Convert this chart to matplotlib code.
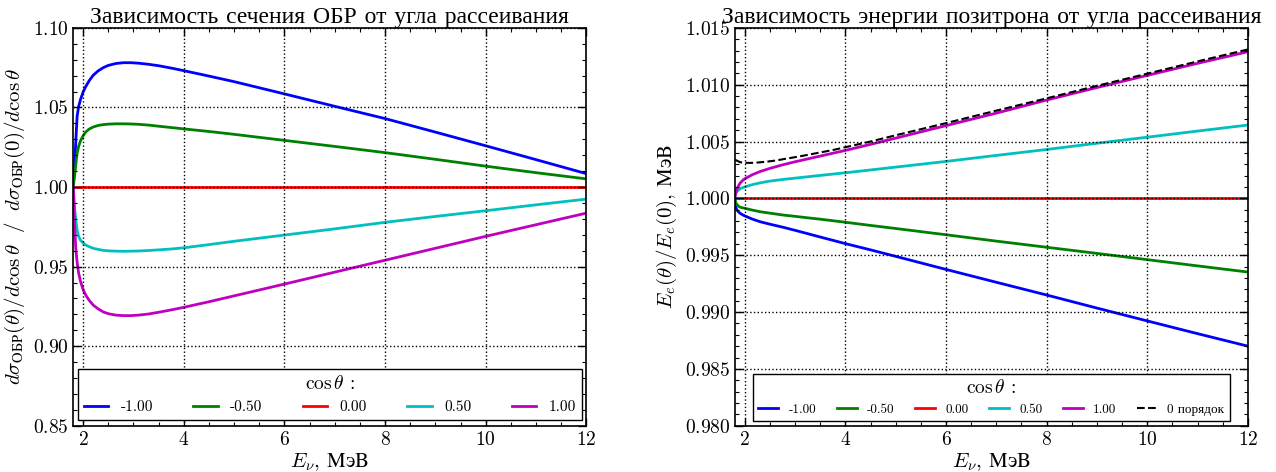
import matplotlib
matplotlib.use("Agg")
import matplotlib.pyplot as plt
from matplotlib.ticker import MultipleLocator

plt.rcParams['font.family'] = ['cmr10', 'Liberation Serif']
plt.rcParams['mathtext.fontset'] = 'cm'
plt.rcParams['axes.formatter.use_mathtext'] = True
plt.rcParams['axes.unicode_minus'] = False

cos_labels = ['-1.00', '-0.50', '0.00', '0.50', '1.00']
colors = ['b', 'g', 'r', 'c', 'm']

# --- left panel: d sigma(theta) / d sigma(0) ---
E_left = [1.806, 1.82, 1.835, 1.855, 1.88, 1.91, 1.95, 2.0, 2.05, 2.12, 2.2, 2.3, 2.4, 2.5,
          2.65, 2.8, 2.95, 3.1, 3.3, 3.5, 3.77, 4, 4.5, 5, 6, 7, 8, 9, 10, 11, 12]
sig_m100 = [1.000, 1.009, 1.0169, 1.029, 1.0443, 1.0505, 1.0552, 1.0597, 1.0630, 1.0668, 1.0702,
            1.0730, 1.0750, 1.0764, 1.0776, 1.0781, 1.0781, 1.0778, 1.0771, 1.0762, 1.0746,
            1.0731, 1.0697, 1.0662, 1.0585, 1.0507, 1.0430, 1.0345, 1.0259, 1.0172, 1.0084]
sig_m050 = [1.000, 1.0045, 1.0085, 1.0145, 1.0211, 1.0255, 1.0292, 1.0322, 1.0345, 1.0364, 1.0377,
            1.0387, 1.0392, 1.0395, 1.0397, 1.0397, 1.0396, 1.0394, 1.0389, 1.0382, 1.0373,
            1.0365, 1.0349, 1.0331, 1.0293, 1.0255, 1.0216, 1.0174, 1.0131, 1.0090, 1.0051]
sig_000 = [1.0] * len(E_left)
sig_p050 = [1.000, 0.992, 0.9853, 0.979, 0.9727, 0.969, 0.9665, 0.9648, 0.9636, 0.9625, 0.9615,
            0.9608, 0.9602, 0.9599, 0.9597, 0.9596, 0.9597, 0.9598, 0.9601, 0.9605, 0.9611,
            0.9618, 0.9638, 0.9659, 0.9698, 0.9737, 0.9778, 0.9815, 0.9851, 0.9888, 0.9924]
sig_p100 = [1.000, 0.985, 0.9726, 0.961, 0.953, 0.9460, 0.9405, 0.9355, 0.9322, 0.9288, 0.9258,
            0.9234, 0.9215, 0.9204, 0.9195, 0.9192, 0.9192, 0.9195, 0.9202, 0.9213, 0.9229,
            0.9244, 0.9279, 0.9316, 0.9390, 0.9465, 0.9540, 0.9615, 0.9690, 0.9763, 0.9836]

# --- right panel: E_e(theta) / E_e(0) ---
E_right = [1.806, 1.81, 1.82, 1.84, 1.875, 1.91, 1.96, 2.01, 2.15, 2.31, 2.5, 2.77, 3.0,
           3.23, 3.5, 3.76, 4, 4.5, 5, 6, 7, 8, 9, 10, 11, 12]
en_m100 = [1.0, 0.9995, 0.99925, 0.99902, 0.99882, 0.99868, 0.99855, 0.99844, 0.99818, 0.99794,
           0.99773, 0.99745, 0.99719, 0.99692, 0.99660, 0.99630, 0.99602, 0.99547, 0.99490,
           0.99375, 0.99262, 0.99150, 0.99035, 0.98922, 0.98810, 0.98700]
en_m050 = [1.0, 0.99975, 0.99962, 0.99948, 0.99932, 0.99922, 0.99917, 0.99912, 0.99897, 0.99882,
           0.99870, 0.99853, 0.99842, 0.99830, 0.99817, 0.99803, 0.99790, 0.99762, 0.99735,
           0.99680, 0.99624, 0.99570, 0.99516, 0.99461, 0.99406, 0.99352]
en_000 = [1.0] * len(E_right)
en_p050 = [1.0, 1.00025, 1.00040, 1.00058, 1.00073, 1.00085, 1.00095, 1.00102, 1.00121, 1.00137,
           1.00152, 1.00167, 1.00178, 1.00189, 1.00202, 1.00214, 1.00225, 1.00250, 1.00275,
           1.00325, 1.00378, 1.00430, 1.00485, 1.00538, 1.00592, 1.00645]
en_p100 = [1.0, 1.00025, 1.00045, 1.00075, 1.00110, 1.00135, 1.00158, 1.00175, 1.00208, 1.00237,
           1.00264, 1.00297, 1.00322, 1.00345, 1.00372, 1.00398, 1.00422, 1.00475, 1.00530,
           1.00640, 1.00750, 1.00865, 1.00975, 1.01082, 1.01188, 1.01290]
E_zero = [1.806, 1.91, 2.0, 2.11, 2.25, 2.44, 2.6, 2.77, 3.1, 3.43, 3.76, 4, 4.5, 5,
          6, 7, 8, 9, 10, 11, 12]
en_zero = [1.0034, 1.00318, 1.00313, 1.00312, 1.00315, 1.00323, 1.00332, 1.00345, 1.00370,
           1.00398, 1.00426, 1.0045, 1.0050, 1.00555, 1.00662, 1.00772, 1.00880, 1.00990,
           1.01097, 1.01205, 1.01310]

fig = plt.figure(figsize=(12.76, 4.72), dpi=100)
ax1 = fig.add_axes([0.0575, 0.098, 0.402, 0.843])
ax2 = fig.add_axes([0.576, 0.098, 0.402, 0.843])


def style_axes(ax, ymaj, ymin):
    ax.set_xlim(1.806, 12)
    ax.xaxis.set_major_locator(MultipleLocator(2))
    ax.xaxis.set_minor_locator(MultipleLocator(0.5))
    ax.yaxis.set_major_locator(MultipleLocator(ymaj))
    ax.yaxis.set_minor_locator(MultipleLocator(ymin))
    ax.tick_params(which='both', direction='in', top=True, right=True, labelsize=14)
    ax.tick_params(which='major', length=6, width=1)
    ax.tick_params(which='minor', length=3, width=0.8)
    ax.set_axisbelow(False)
    ax.grid(True, which='major', linestyle=':', color='black', linewidth=1)
    for s in ax.spines.values():
        s.set_linewidth(1.2)
    ax.set_xlabel(r'$E_\nu$, $\mathrm{МэВ}$', fontsize=15, labelpad=2)


# left panel
series_left = [sig_m100, sig_m050, sig_000, sig_p050, sig_p100]
for vals, c, lab in zip(series_left, colors, cos_labels):
    ax1.plot(E_left, vals, color=c, lw=2, label=lab)
ax1.set_ylim(0.85, 1.10)
style_axes(ax1, 0.05, 0.01)
ax1.set_ylabel(r'$d\sigma_{\rm ОБР}(\theta)/d\cos\theta\ \ /\ \ d\sigma_{\rm ОБР}(0)/d\cos\theta$',
               fontsize=15, labelpad=4)
ax1.set_title('Зависимость сечения ОБР от угла рассеивания', fontsize=17, pad=3)
leg1 = ax1.legend(loc='lower center', ncol=5, fontsize=11, title=r'$\cos\theta$ :',
                  title_fontsize=14, fancybox=False, edgecolor='black', framealpha=1,
                  handlelength=1.6, columnspacing=2.65, borderaxespad=0.35)
leg1.get_frame().set_linewidth(1.0)
leg1.set_zorder(5)

# right panel
series_right = [en_m100, en_m050, en_000, en_p050, en_p100]
for vals, c, lab in zip(series_right, colors, cos_labels):
    ax2.plot(E_right, vals, color=c, lw=2, label=lab)
ax2.plot(E_zero, en_zero, color='black', lw=1.5, ls='--', label='0 порядок')
ax2.set_ylim(0.980, 1.015)
style_axes(ax2, 0.005, 0.001)
ax2.set_ylabel(r'$E_e(\theta)/E_e(0)$, $\mathrm{МэВ}$', fontsize=15, labelpad=4)
ax2.set_title('Зависимость энергии позитрона от угла рассеивания', fontsize=17, pad=3)
leg2 = ax2.legend(loc='lower center', ncol=6, fontsize=9.5, title=r'$\cos\theta$ :',
                  title_fontsize=14, fancybox=False, edgecolor='black', framealpha=1,
                  handlelength=1.5, columnspacing=1.55, borderaxespad=0.35)
leg2.get_frame().set_linewidth(1.0)
leg2.set_zorder(5)

fig.savefig('out.png', dpi=100)
